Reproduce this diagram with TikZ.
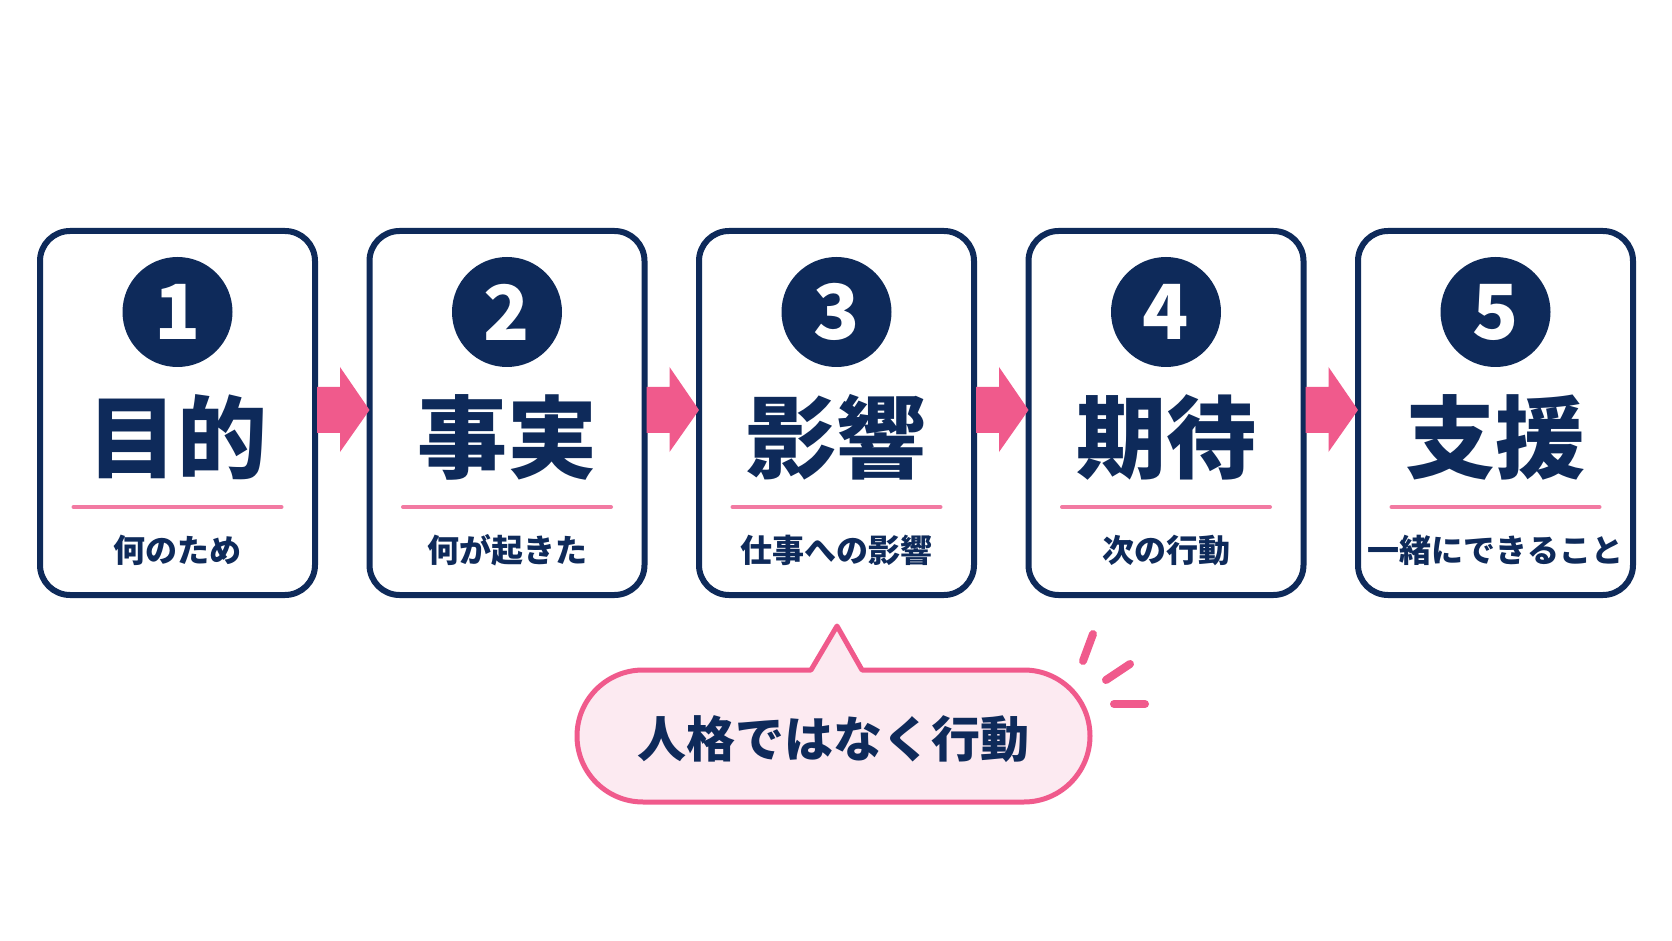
\documentclass[tikz,border=0pt]{standalone}
\usepackage{fontspec}
\setmainfont{Noto Sans CJK JP}
\usetikzlibrary{calc}
\definecolor{navy}{HTML}{0E2A5A}
\definecolor{hotpink}{HTML}{F05A8C}
\definecolor{linepink}{HTML}{F27AA2}
\definecolor{softpink}{HTML}{FCEAF1}
\tikzset{
  card/.style={draw=navy, line width=3pt, rounded corners=15pt, fill=white,
    minimum width=137.5pt, minimum height=182pt, inner sep=0pt},
  numdot/.style={circle, fill=navy, text=white, minimum size=55pt, inner sep=0pt,
    font=\fontsize{38}{40}\selectfont\bfseries},
  bigword/.style={text=navy, inner sep=0pt, font=\fontsize{45}{48}\selectfont\bfseries},
  subword/.style={text=navy, inner sep=0pt, font=\fontsize{16}{18}\selectfont\bfseries},
  uline/.style={draw=linepink, line width=2pt, line cap=round},
  flow/.style={fill=hotpink},
  spark/.style={draw=hotpink, line width=4pt, line cap=round},
}
\begin{document}
\begin{tikzpicture}[x=0.5pt,y=-0.5pt]
\useasboundingbox[fill=white] (0,0) rectangle (1672,941);
\foreach \i/\n/\w/\s in {1/1/目的/何のため,2/2/事実/何が起きた,3/3/影響/仕事への影響,4/4/期待/次の行動,5/5/支援/一緒にできること}{
  \pgfmathsetmacro{\cx}{177.5+329.5*(\i-1)}
  \node[card] (b\i) at (\cx,413) {};
  \node[numdot] (n\i) at (\cx,312) {\n};
  \node[bigword] (w\i) at (\cx,437) {\w};
  \coordinate (la\i) at (\cx-104,507);
  \coordinate (lb\i) at (\cx+104,507);
  \draw[uline] (la\i) -- (lb\i);
  \node[subword] (s\i) at (\cx,550) {\s};
}
\foreach \i/\j in {1/2,2/3,3/4,4/5}{
  \fill[flow] ($(b\i.east)+(-1,-26)$) -- ($(b\i.east)+(22,-26)$) -- ($(b\i.east)+(22,-46)$)
    -- ($(b\j.west)+(3,-3)$) -- ($(b\i.east)+(22,39)$) -- ($(b\i.east)+(22,20)$)
    -- ($(b\i.east)+(-1,20)$) -- cycle;
}
% callout
\coordinate (tip) at (837,626);
\draw[draw=hotpink, fill=softpink, line width=2.5pt, line join=round]
  (811,670) -- (tip) -- (862,670) -- (1024,670)
  arc[start angle=90, end angle=-90, radius=33pt]
  -- (643,802) arc[start angle=270, end angle=90, radius=33pt] -- cycle;
\node[text=navy, inner sep=0pt, font=\fontsize{24.5}{27}\selectfont\bfseries] (msg) at (833,739) {人格ではなく行動};
% sparks
\coordinate (p1a) at (1093,634); \coordinate (p1b) at (1083,661);
\coordinate (p2a) at (1130,664); \coordinate (p2b) at (1106,680);
\coordinate (p3a) at (1114,704); \coordinate (p3b) at (1145,704);
\draw[spark] (p1a) -- (p1b);
\draw[spark] (p2a) -- (p2b);
\draw[spark] (p3a) -- (p3b);
\end{tikzpicture}
\end{document}
